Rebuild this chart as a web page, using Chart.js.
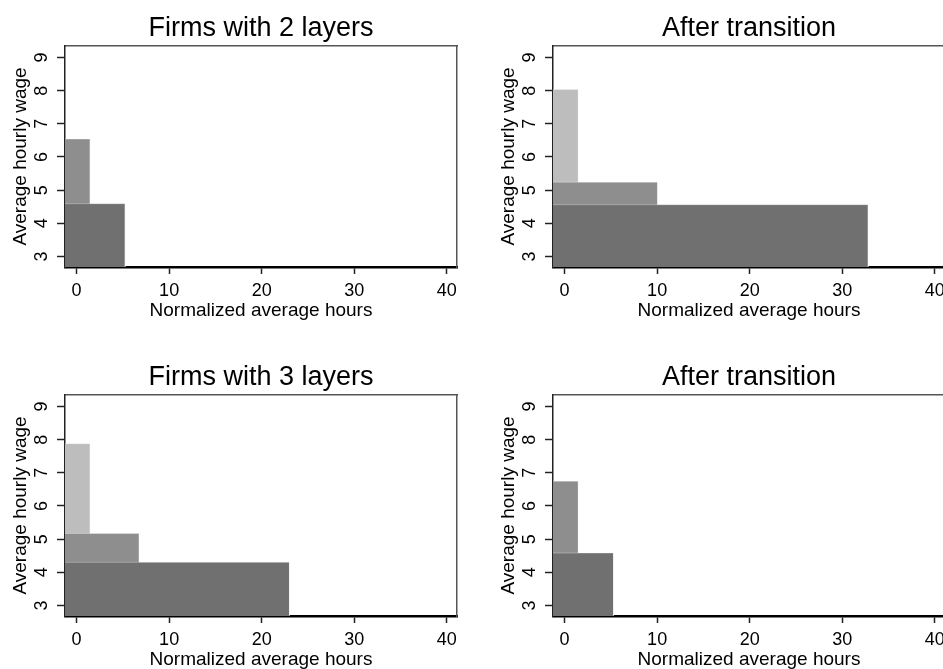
<!DOCTYPE html>
<html>
<head>
<meta charset="utf-8">
<script src="https://cdn.jsdelivr.net/npm/chart.js@4.4.1/dist/chart.umd.min.js"></script>
<style>
  html, body { margin:0; padding:0; background:#fff; width:943px; height:669px; overflow:hidden; position:relative; }
  canvas { position:absolute; }
</style>
</head>
<body>
<canvas id="c1" width="522" height="330" style="left:0px;top:0px;width:522px;height:330px"></canvas>
<canvas id="c2" width="522" height="330" style="left:488px;top:0px;width:522px;height:330px"></canvas>
<canvas id="c3" width="522" height="330" style="left:0px;top:349px;width:522px;height:330px"></canvas>
<canvas id="c4" width="522" height="330" style="left:488px;top:349px;width:522px;height:330px"></canvas>
<script>
// ---- data ----
const panelTitles = ['Firms with 2 layers', 'After transition', 'Firms with 3 layers', 'After transition'];
// layer 0 = bottom (dark), layer 1 = middle, layer 2 = top (light)
const hours2Layers = [5.25, 1.47];
const wage2Layers  = [4.59, 6.54];
const hours2After  = [32.8, 10.06, 1.49];
const wage2After   = [4.56, 5.24, 8.04];
const hours3Layers = [23.0, 6.77, 1.47];
const wage3Layers  = [4.30, 5.17, 7.88];
const hours3After  = [5.29, 1.49];
const wage3After   = [4.58, 6.75];
const xTicks = [0, 10, 20, 30, 40];
const yTicks = [3, 4, 5, 6, 7, 8, 9];
const xAxisTitle = 'Normalized average hours';
const yAxisTitle = 'Average hourly wage';

// ---- styling ----
const X_MIN = -1.25, X_MAX = 41.1;
const Y_MIN = 2.68, Y_MAX = 9.35;
const layerColors = ['#707070', '#8e8e8e', '#bdbdbd'];
const FONT = "'Liberation Sans', Arial, Helvetica, sans-serif";
Chart.defaults.font.family = FONT;
Chart.defaults.color = '#000';

function makeChart(id, title, hours, wages) {
  const datasets = hours.map((h, i) => ({
    data: [{x: X_MIN, y: wages[i]}, {x: h, y: wages[i]}, {x: h, y: Y_MIN}],
    showLine: true,
    fill: 'start',
    backgroundColor: layerColors[i],
    borderColor: 'rgba(255,255,255,0.3)',
    borderWidth: 1,
    pointRadius: 0,
    pointHoverRadius: 0,
    tension: 0
  }));
  new Chart(document.getElementById(id), {
    type: 'scatter',
    data: { datasets },
    options: {
      responsive: false,
      animation: false,
      devicePixelRatio: 1,
      events: [],
      layout: { padding: { left: 0, right: 0, top: 0, bottom: 7 } },
      plugins: {
        legend: { display: false },
        tooltip: { enabled: false },
        title: {
          display: true, text: title, color: '#000',
          font: { size: 27, weight: 'normal', family: FONT },
          padding: { top: 12, bottom: 1.6 }
        }
      },
      scales: {
        x: {
          type: 'linear', position: 'bottom', min: X_MIN, max: X_MAX, z: 1,
          afterBuildTicks: s => { s.ticks = xTicks.map(v => ({ value: v })); },
          afterFit: s => { s.height = 56; },
          ticks: { font: { size: 18 }, color: '#000', padding: 6, maxRotation: 0, minRotation: 0, autoSkip: false },
          grid: { display: true, drawOnChartArea: false, drawTicks: true, tickLength: 7, tickColor: '#222', tickWidth: 1.5 },
          border: { display: true, color: '#000', width: 2.5 },
          title: { display: true, text: xAxisTitle, font: { size: 19 }, color: '#000', padding: { top: 0, bottom: 1 } }
        },
        x2: {
          type: 'linear', position: 'top', min: X_MIN, max: X_MAX, z: 1,
          afterFit: s => { s.height = 0; },
          ticks: { display: false },
          grid: { display: false },
          border: { display: true, color: '#555', width: 1.5 }
        },
        y: {
          type: 'linear', position: 'left', min: Y_MIN, max: Y_MAX, z: 1,
          afterBuildTicks: s => { s.ticks = yTicks.map(v => ({ value: v })); },
          afterFit: s => { s.width = 65; },
          ticks: { font: { size: 18 }, color: '#000', padding: 10, minRotation: 90, maxRotation: 90, crossAlign: 'center', autoSkip: false },
          grid: { display: true, drawOnChartArea: false, drawTicks: true, tickLength: 8, tickColor: '#222', tickWidth: 1.5 },
          border: { display: true, color: '#222', width: 1.5 },
          title: { display: true, text: yAxisTitle, font: { size: 19 }, color: '#000', padding: { top: 9, bottom: 0 } }
        },
        y2: {
          type: 'linear', position: 'right', min: Y_MIN, max: Y_MAX, z: 1,
          afterFit: s => { s.width = 65; },
          ticks: { display: false },
          grid: { display: false },
          border: { display: true, color: '#555', width: 1.5 }
        }
      }
    }
  });
}

makeChart('c1', panelTitles[0], hours2Layers, wage2Layers);
makeChart('c2', panelTitles[1], hours2After, wage2After);
makeChart('c3', panelTitles[2], hours3Layers, wage3Layers);
makeChart('c4', panelTitles[3], hours3After, wage3After);
</script>
</body>
</html>
